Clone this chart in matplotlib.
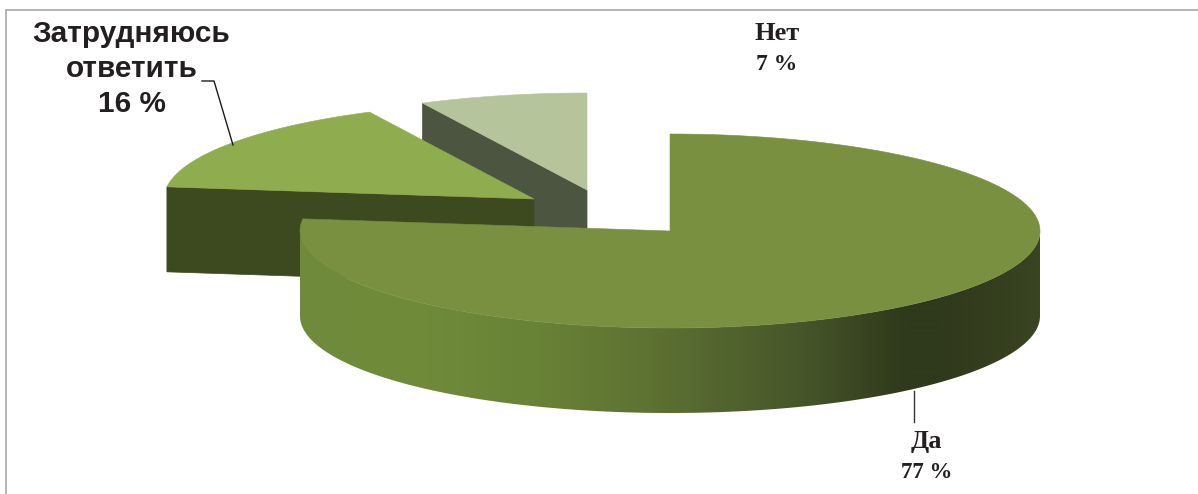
import numpy as np
import matplotlib
matplotlib.use("Agg")
import matplotlib.pyplot as plt
from matplotlib.patches import Polygon
from matplotlib.colors import LinearSegmentedColormap

categories = ["Да", "Затрудняюсь\nответить", "Нет"]
values = [77, 16, 7]
top_colors = ["#789040", "#8fad4f", "#b6c49b"]
face_colors = [None, "#3d4a20", "#4c5540"]

W, H = 1198, 494
RX, RY, DEPTH = 370, 97, 85
centers = [(670, 231), (534, 199), (587, 190)]
boundary_skew = [0, 0, -1.2, 0]  # small perspective shift of the slice edges, degrees

fig = plt.figure(figsize=(W / 100, H / 100), dpi=100, facecolor="white")
ax = fig.add_axes([0, 0, 1, 1])
ax.set_xlim(0, W)
ax.set_ylim(H, 0)
ax.axis("off")

ax.plot([6, 6, W], [H, 10, 10], color="#b4b4b4", lw=1.4, solid_joinstyle="miter", zorder=1)


def arc(c, a0, a1, n=240):
    t = np.radians(np.linspace(a0, a1, n))
    return np.column_stack([c[0] + RX * np.sin(t), c[1] - RY * np.cos(t)])


fracs = np.cumsum([0] + values) / sum(values) * 360 + np.array(boundary_skew)
wall_cmap = LinearSegmentedColormap.from_list(
    "wall",
    [(0.00, "#6f8a3c"), (0.15, "#708c3a"), (0.32, "#688236"), (0.47, "#5e7232"),
     (0.68, "#46562a"), (0.82, "#2f391b"), (0.87, "#30391b"), (1.00, "#394422")],
)

# Drawn back to front: last slice first
for i in [2, 1, 0]:
    c = centers[i]
    a0, a1 = fracs[i], fracs[i + 1]
    z = 3 + (2 - i) * 2
    if face_colors[i]:
        edge = arc(c, a0, a0, 2)[0]
        ax.add_patch(Polygon([edge, c, (c[0], c[1] + DEPTH), (edge[0], edge[1] + DEPTH)],
                             closed=True, fc=face_colors[i], ec=face_colors[i], lw=0.5, zorder=z))
    else:
        top = arc(c, 90, min(a1, 270), 300)
        wall = Polygon(np.vstack([top, top[::-1] + [0, DEPTH]]), closed=True,
                       transform=ax.transData, fc="none", ec="none")
        ax.add_patch(wall)
        im = ax.imshow(np.linspace(0, 1, 740)[None, :], cmap=wall_cmap, vmin=0, vmax=1,
                       extent=(c[0] - RX, c[0] + RX, c[1] + RY + DEPTH + 2, c[1] - 5),
                       aspect="auto", interpolation="bilinear", zorder=z)
        im.set_clip_path(wall)
    ax.add_patch(Polygon(np.vstack([[c], arc(c, a0, a1)]), closed=True,
                         fc=top_colors[i], ec=top_colors[i], lw=0.4, zorder=z + 1))
ax.set_xlim(0, W)
ax.set_ylim(H, 0)

# Leader lines
ax.plot([202, 214, 233], [81, 81, 145], color="#1a1a1a", lw=1.0, zorder=12)
ax.plot([914, 914], [391, 422], color="#333333", lw=1.0, zorder=2)

serif = dict(family="Liberation Serif", fontweight="bold", color="#231f20", ha="center", va="center")
ax.text(777, 34, categories[2], fontsize=19, **serif)
ax.text(777, 65, f"{values[2]} %", fontsize=17, **serif)
ax.text(926, 441, categories[0], fontsize=19, **serif)
ax.text(927, 472, f"{values[0]} %", fontsize=16.5, **serif)
ax.text(131.5, 69, f"{categories[1]}\n{values[1]} %", family="Liberation Sans", fontweight="bold",
        color="#231f20", fontsize=21.4, ha="center", va="center", linespacing=1.34)

fig.savefig("out.png", dpi=100, facecolor="white")
